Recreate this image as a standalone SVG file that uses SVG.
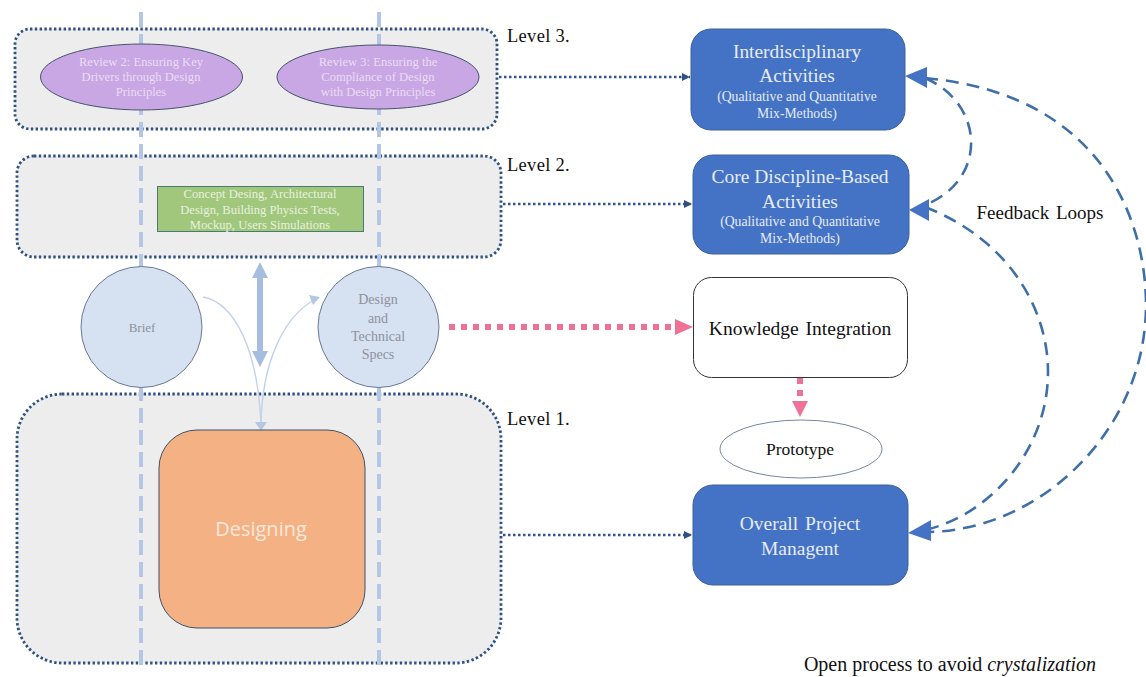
<svg xmlns="http://www.w3.org/2000/svg" width="1146" height="677" viewBox="0 0 1146 677">
<style>
text{font-family:"Liberation Serif","Times New Roman",serif;text-anchor:middle}
.lvl{fill:#ededed;stroke:#2f5180;stroke-width:2.800;stroke-dasharray:2.400 2.400}
.blue{fill:#4472c4;stroke:#3a6298;stroke-width:1}
.w{fill:#e6ecf7}
.k{fill:#111}
.lab{text-anchor:start;font-size:18.500px;fill:#111;letter-spacing:.3px}
.guide{fill:none;stroke:#b4c6e7;stroke-width:4;stroke-dasharray:15 7}
.rev{fill:#c9a7e4;stroke:#44546a;stroke-width:1}
.rt{fill:#e9dcf4;font-size:12.600px}
.circ{fill:#d6e1f2;stroke:#6a7a94;stroke-width:1}
.gt{fill:#8d939c;font-size:14px}
.dot{fill:none;stroke:#2f5597;stroke-width:2.500;stroke-dasharray:2.500 2.500}
.pink{fill:none;stroke:#ee7295;stroke-width:6;stroke-dasharray:6 6}
.fb{fill:none;stroke:#3f6fa8;stroke-width:2.600;stroke-dasharray:13 8}
.thin{fill:none;stroke:#c3d2e9;stroke-width:1.400}
</style>
<defs>
<marker id="ah" markerUnits="userSpaceOnUse" markerWidth="9" markerHeight="9" refX="8" refY="4" orient="auto"><path d="M0 0L8 4L0 8z" fill="#2f5180"/></marker>
</defs>
<rect width="1146" height="677" fill="#fff"/>
<g id="level3"><rect class="lvl" x="15" y="29" width="482" height="100" rx="15"/></g>
<g id="level2"><rect class="lvl" x="17" y="156" width="484" height="101" rx="17"/></g>
<g id="level1"><rect class="lvl" x="17" y="394" width="484" height="269" rx="45"/></g>
<g id="connectors">
<path class="guide" d="M141 12V672"/>
<path class="guide" d="M379 12V672"/>
<path class="dot" d="M499 77H690" marker-end="url(#ah)"/>
<path class="dot" d="M503 204H692" marker-end="url(#ah)"/>
<path class="dot" d="M503 535H692" marker-end="url(#ah)"/>
<path class="thin" d="M203 297C235 303 258 350 261 425"/>
<path class="thin" d="M261 425C262 360 285 315 316 299"/>
<path d="M261 431L255 422H267z" fill="#b4c8e6"/>
<path d="M320 297L309 295L313 305z" fill="#b4c8e6"/>
<path d="M260 262L268 278H263V351H268L260 367L252 351H257V278H252z" fill="#a6bde0"/>
<path class="pink" d="M449 327H676"/>
<path d="M693 327L675 319V335z" fill="#ee7295"/>
<path class="pink" d="M800 378V402"/>
<path d="M800 417L792 401H808z" fill="#ee7295"/>
<path class="fb" d="M925 78C985 104 988 180 925 205"/>
<path class="fb" d="M925 78C1110 95 1146 230 1146 305C1146 430 1040 532 925 532"/>
<path class="fb" d="M925 207C1010 240 1048 310 1048 372C1048 450 990 515 925 530"/>
<path d="M905 76L927 67V88z" fill="#4472c4"/>
<path d="M909 210L929 199V221z" fill="#4472c4"/>
<path d="M908 533L931 520V541z" fill="#4472c4"/>
</g>
<g id="review2"><ellipse class="rev" cx="141.500" cy="77" rx="101" ry="33"/>
<text class="rt" x="141" y="66">Review 2: Ensuring Key</text><text class="rt" x="141" y="81">Drivers through Design</text><text class="rt" x="141" y="96">Principles</text></g>
<g id="review3"><ellipse class="rev" cx="378" cy="77" rx="101" ry="32"/>
<text class="rt" x="378" y="66">Review 3: Ensuring the</text><text class="rt" x="378" y="81">Compliance of Design</text><text class="rt" x="378" y="96">with Design Principles</text></g>
<g id="concept"><rect x="157.500" y="186.500" width="206" height="45" fill="#a1c77c" stroke="#4a7a78"/>
<text x="260" y="198" font-size="12.600" fill="#e8f1df">Concept Desing, Architectural</text><text x="260" y="214" font-size="12.600" fill="#e8f1df">Design, Building Physics Tests,</text><text x="260" y="229" font-size="12.600" fill="#e8f1df">Mockup, Users Simulations</text></g>
<g id="brief"><circle class="circ" cx="141.500" cy="327" r="60.500"/><text class="gt" x="142" y="332" style="font-size:13px">Brief</text></g>
<g id="specs"><circle class="circ" cx="378.500" cy="327" r="60.500"/>
<text class="gt" x="378" y="304">Design</text><text class="gt" x="378" y="323">and</text><text class="gt" x="378" y="341">Technical</text><text class="gt" x="378" y="359">Specs</text></g>
<g id="designing"><rect x="159" y="430" width="206" height="198" rx="38" fill="#f4b183" stroke="#3f5068" stroke-width="1"/>
<text x="261" y="536" font-size="20" fill="#f6e8dc" style="font-family:'Open Sans','Liberation Sans',sans-serif">Designing</text></g>
<g id="interdisciplinary"><rect class="blue" x="691" y="29" width="214" height="101" rx="20"/>
<text class="w" x="797" y="58" font-size="19.400">Interdisciplinary</text><text class="w" x="797" y="82" font-size="19.400">Activities</text><text class="w" x="797" y="101" font-size="13.700">(Qualitative and Quantitative</text><text class="w" x="797" y="118" font-size="13.700">Mix-Methods)</text></g>
<g id="core"><rect class="blue" x="693" y="155" width="216" height="99" rx="20"/>
<text class="w" x="800" y="183" font-size="19.500">Core Discipline-Based</text><text class="w" x="800" y="208" font-size="19.500">Activities</text><text class="w" x="800" y="226" font-size="13.700">(Qualitative and Quantitative</text><text class="w" x="800" y="243" font-size="13.700">Mix-Methods)</text></g>
<g id="knowledge"><rect x="693.500" y="277.500" width="214" height="100" rx="18" fill="#fff" stroke="#333"/>
<text class="k" x="800" y="335" font-size="19.500" style="word-spacing:2px">Knowledge Integration</text></g>
<g id="prototype"><ellipse cx="801" cy="449" rx="81" ry="29" fill="#fff" stroke="#76869e"/><text class="k" x="800" y="455" font-size="17.500">Prototype</text></g>
<g id="overall"><rect class="blue" x="693" y="485" width="215" height="100" rx="20"/>
<text class="w" x="800" y="530" font-size="19.500" style="word-spacing:2px">Overall Project</text><text class="w" x="800" y="555" font-size="19.500">Managent</text></g>
<g id="labels">
<text class="lab" x="507" y="42">Level 3.</text>
<text class="lab" x="507" y="171">Level 2.</text>
<text class="lab" x="507" y="425">Level 1.</text>
<text class="k" x="1040" y="219" font-size="19" style="word-spacing:2px">Feedback Loops</text>
<text class="k" x="950" y="671" font-size="20">Open process to avoid <tspan font-style="italic">crystalization</tspan></text>
</g>
</svg>
